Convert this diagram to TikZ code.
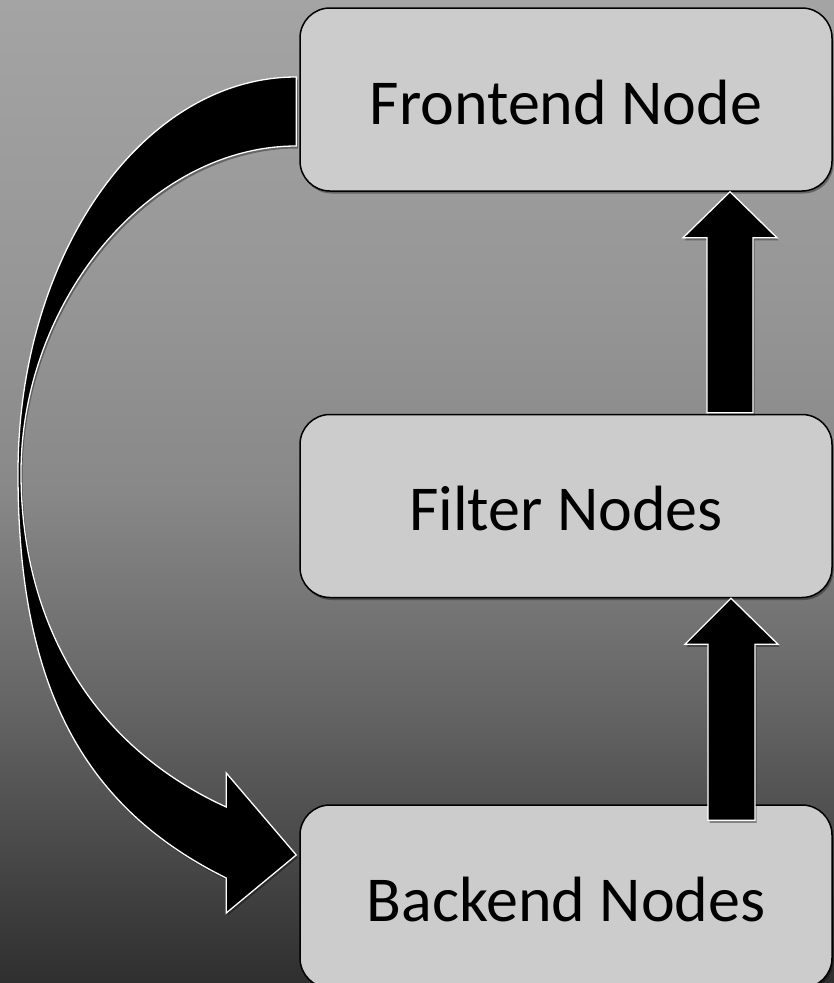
\documentclass[tikz,border=0pt]{standalone}
\usepackage{fontspec}
\setmainfont{Carlito}
\usetikzlibrary{calc,shadows}
\definecolor{bgA}{RGB}{47,47,47}
\definecolor{bgB}{RGB}{102,102,102}
\definecolor{bgC}{RGB}{136,136,136}
\definecolor{bgD}{RGB}{150,150,150}
\definecolor{bgE}{RGB}{164,164,164}
\definecolor{boxgray}{RGB}{204,204,204}
\pgfdeclareverticalshading{bgshade}{100bp}{color(0bp)=(bgA); color(25bp)=(bgA); color(39.5bp)=(bgB); color(50bp)=(bgC); color(60bp)=(bgD); color(75bp)=(bgE); color(100bp)=(bgE)}
\tikzset{
  box/.style={draw=black, line width=1.5pt, fill=boxgray, rounded corners=30pt,
    minimum width=532pt, minimum height=183pt, inner sep=0pt,
    text height=49pt, text depth=0pt,
    font=\fontsize{64}{76}\selectfont,
    drop shadow={shadow xshift=1.5pt, shadow yshift=-2.5pt, opacity=0.35, fill=black}},
  blockarrow/.style={fill=black, draw=white, line width=1.3pt, line join=miter,
    drop shadow={shadow xshift=1.5pt, shadow yshift=-2.5pt, opacity=0.35, fill=black}}
}
\begin{document}
\begin{tikzpicture}[x=1pt, y=-1pt]
\useasboundingbox (0,0) rectangle (834,983);
\fill[shading=bgshade] (0,0) rectangle (834,983);

\node[box] (front) at (566,99.5) {Frontend Node};
\node[box] (filter) at (566,506) {Filter Nodes};
\node[box] (back) at (566,896.5) {Backend Nodes};

% Filter -> Frontend
\draw[blockarrow] ($(front.south)+(164,0)$) -- ($(front.south)+(211,46)$)
  -- ($(front.south)+(187,46)$) -- ($(filter.north)+(187,-1)$)
  -- ($(filter.north)+(141,-1)$) -- ($(front.south)+(141,46)$)
  -- ($(front.south)+(117,46)$) -- cycle;

% Backend -> Filter
\draw[blockarrow] ($(filter.south)+(165,0)$) -- ($(filter.south)+(212,46)$)
  -- ($(filter.south)+(189,46)$) -- ($(back.north)+(189,16)$)
  -- ($(back.north)+(142,16)$) -- ($(filter.south)+(142,46)$)
  -- ($(filter.south)+(119,46)$) -- cycle;

% Frontend -> Backend (curved)
\draw[blockarrow] ($(front.west)+(-3,-22.5)$) .. controls (143,77) and (18,254) .. (18,473)
  .. controls (18,673) and (74,803) .. ($(back.west)+(-73,-18.5)$)
  -- ($(back.west)+(-73,16.5)$) -- ($(back.west)+(-3,-41.5)$)
  -- ($(back.west)+(-73,-123.5)$) -- ($(back.west)+(-73,-89.5)$)
  .. controls (90,745) and (21,620) .. (21,473)
  .. controls (21,300) and (150,146) .. ($(front.west)+(-3,46.5)$) -- cycle;
\end{tikzpicture}
\end{document}
